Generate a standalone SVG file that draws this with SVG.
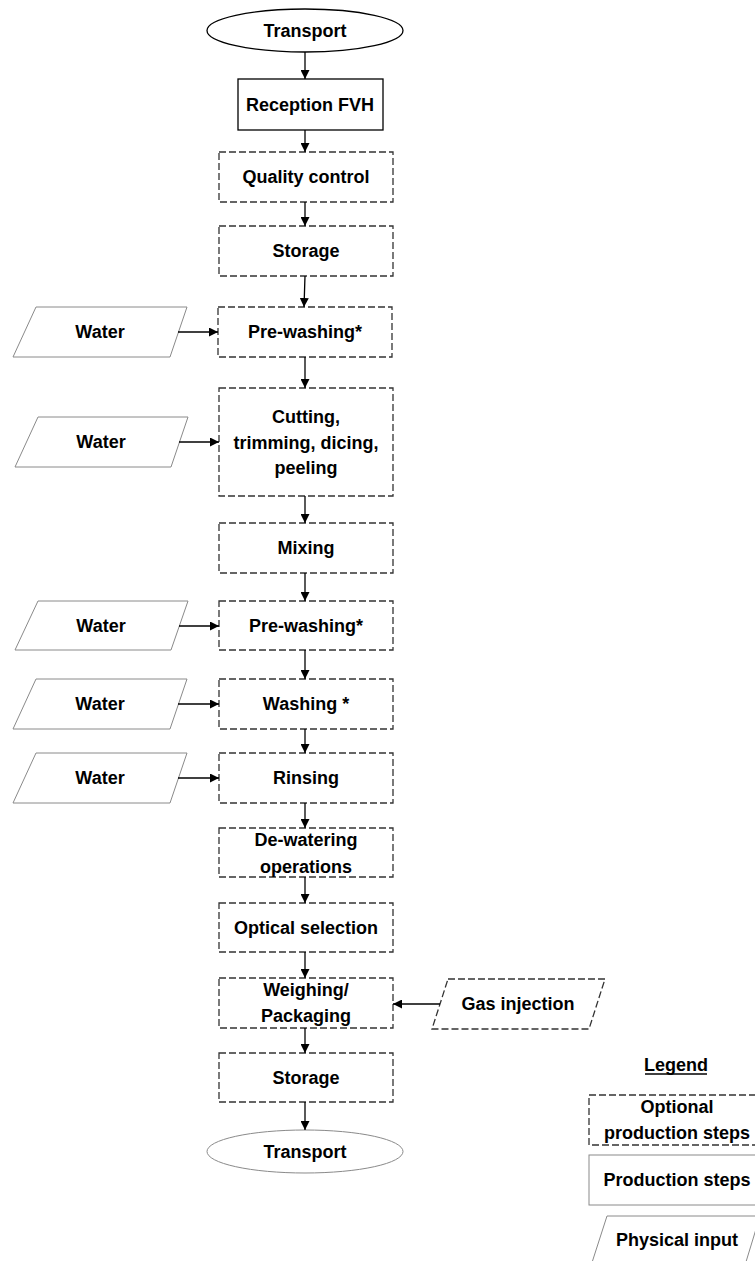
<svg xmlns="http://www.w3.org/2000/svg" width="755" height="1261" viewBox="0 0 755 1261">
<defs>
<marker id="ah" viewBox="0 0 10 10" refX="10" refY="5" markerWidth="9" markerHeight="9" markerUnits="userSpaceOnUse" orient="auto">
<path d="M0,0 L10,5 L0,10 z" fill="#000"/>
</marker>
<style>
text{font-family:"Liberation Sans",Arial,sans-serif;font-weight:bold;font-size:18px;fill:#000;text-anchor:middle}
.opt{fill:#fff;stroke:#333;stroke-width:1.3;stroke-dasharray:7,3}
.solid{fill:#fff;stroke:#000;stroke-width:1.3}
.grey{fill:#fff;stroke:#8a8a8a;stroke-width:1}
.conn line{stroke:#000;stroke-width:1.3;marker-end:url(#ah)}
</style>
</defs>
<rect width="755" height="1261" fill="#fff"/>

<g id="transport1"><ellipse cx="305" cy="30.5" rx="98" ry="21.5" class="solid"/><text x="305" y="37">Transport</text></g>
<g id="reception"><rect x="238" y="79" width="145" height="51" class="solid"/><text x="310" y="111">Reception FVH</text></g>
<g id="quality"><rect x="219" y="152" width="174" height="50" class="opt"/><text x="306" y="183">Quality control</text></g>
<g id="storage1"><rect x="219" y="226" width="174" height="50" class="opt"/><text x="306" y="257">Storage</text></g>
<g id="prewash1"><rect x="218" y="307" width="174" height="50" class="opt"/><text x="305" y="338">Pre-washing*</text></g>
<g id="cutting"><rect x="219" y="388" width="174" height="108" class="opt"/><text x="306" y="423">Cutting,</text><text x="306" y="449">trimming, dicing,</text><text x="306" y="474">peeling</text></g>
<g id="mixing"><rect x="219" y="523" width="174" height="50" class="opt"/><text x="306" y="554">Mixing</text></g>
<g id="prewash2"><rect x="219" y="601" width="174" height="49" class="opt"/><text x="306" y="632">Pre-washing*</text></g>
<g id="washing"><rect x="219" y="679" width="174" height="50" class="opt"/><text x="306" y="710">Washing *</text></g>
<g id="rinsing"><rect x="219" y="753" width="174" height="50" class="opt"/><text x="306" y="784">Rinsing</text></g>
<g id="dewatering"><rect x="219" y="828" width="174" height="49" class="opt"/><text x="306" y="846">De-watering</text><text x="306" y="873">operations</text></g>
<g id="optical"><rect x="219" y="903" width="174" height="49" class="opt"/><text x="306" y="934">Optical selection</text></g>
<g id="weighing"><rect x="219" y="978" width="174" height="50" class="opt"/><text x="306" y="996">Weighing/</text><text x="306" y="1022">Packaging</text></g>
<g id="storage2"><rect x="219" y="1053" width="174" height="49" class="opt"/><text x="306" y="1084">Storage</text></g>
<g id="transport2"><ellipse cx="305" cy="1151.5" rx="98" ry="21.5" class="grey"/><text x="305" y="1158">Transport</text></g>

<g id="water1"><polygon points="36,307 187,307 170,357 13,357" class="grey"/><text x="100" y="338">Water</text></g>
<g id="water2"><polygon points="38,417 188,417 171,467 15,467" class="grey"/><text x="101" y="448">Water</text></g>
<g id="water3"><polygon points="38,601 188,601 171,650 15,650" class="grey"/><text x="101" y="632">Water</text></g>
<g id="water4"><polygon points="36,679 187,679 170,729 13,729" class="grey"/><text x="100" y="710">Water</text></g>
<g id="water5"><polygon points="36,753 187,753 170,803 13,803" class="grey"/><text x="100" y="784">Water</text></g>
<g id="gas"><polygon points="448,979 605,979 589,1029 432,1029" class="opt"/><text x="518" y="1010">Gas injection</text></g>

<g id="connectors" class="conn">
<line x1="305" y1="52" x2="305" y2="79"/>
<line x1="305" y1="130" x2="305" y2="152"/>
<line x1="305" y1="202" x2="305" y2="226"/>
<line x1="305" y1="276" x2="304" y2="307"/>
<line x1="305" y1="357" x2="305" y2="388"/>
<line x1="305" y1="496" x2="305" y2="523"/>
<line x1="305" y1="573" x2="305" y2="601"/>
<line x1="305" y1="650" x2="305" y2="679"/>
<line x1="305" y1="729" x2="305" y2="753"/>
<line x1="305" y1="803" x2="305" y2="828"/>
<line x1="305" y1="877" x2="305" y2="903"/>
<line x1="305" y1="952" x2="305" y2="978"/>
<line x1="305" y1="1028" x2="305" y2="1053"/>
<line x1="305" y1="1102" x2="305" y2="1130"/>
<line x1="178" y1="332" x2="218" y2="332"/>
<line x1="179" y1="442" x2="219" y2="442"/>
<line x1="179" y1="626" x2="219" y2="626"/>
<line x1="178" y1="704" x2="219" y2="704"/>
<line x1="178" y1="778" x2="219" y2="778"/>
<line x1="440" y1="1004" x2="393" y2="1004"/>
</g>

<g id="legend">
<text x="676" y="1071">Legend</text>
<line x1="645" y1="1074" x2="707" y2="1074" stroke="#000" stroke-width="1.3"/>
<g id="legend-optional"><rect x="589" y="1095" width="170" height="50" class="opt"/><text x="677" y="1113">Optional</text><text x="677" y="1139">production steps</text></g>
<g id="legend-production"><rect x="589" y="1155" width="170" height="50" class="grey"/><text x="677" y="1186">Production steps</text></g>
<g id="legend-input"><polygon points="607,1216 760,1216 742,1275 588,1275" class="grey"/><text x="677" y="1246">Physical input</text></g>
</g>
</svg>
